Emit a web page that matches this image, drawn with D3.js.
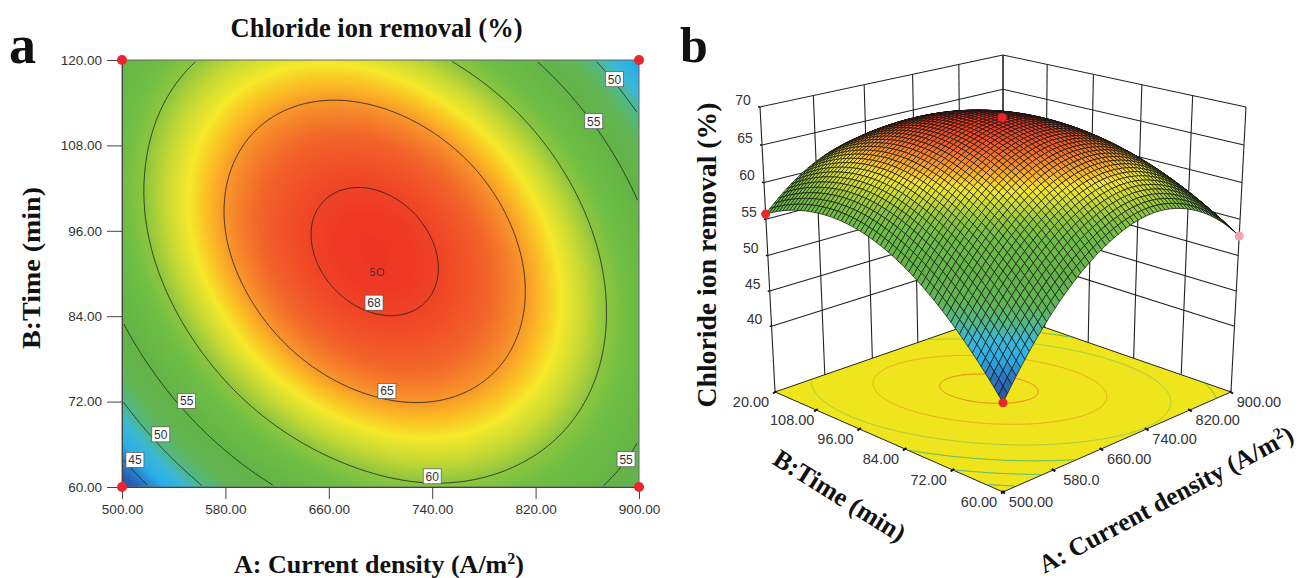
<!DOCTYPE html>
<html>
<head>
<meta charset="utf-8">
<style>
  html, body { margin: 0; padding: 0; background: #fff; }
  text { font-family: "Liberation Sans", Arial, sans-serif; fill: #333; }
  .big { font-family: "Liberation Serif", "Times New Roman", serif; font-weight: bold; fill: #111; }
</style>
<script src="https://cdn.jsdelivr.net/npm/d3@7/dist/d3.min.js"></script>
</head>
<body>
<div id="chart"></div>
<script>
var currentDensity = [500, 580, 660, 740, 820, 900];
var time = [60, 72, 84, 96, 108, 120];

// removal (%), one list per time level
var removalAt60 = [42.1, 51.7, 57.5, 59.7, 58.0, 52.7];
var removalAt72 = [49.9, 58.7, 63.7, 65.0, 62.5, 56.3];
var removalAt84 = [55.2, 63.1, 67.3, 67.7, 64.4, 57.4];
var removalAt96 = [57.9, 65.0, 68.3, 67.9, 63.8, 56.0];
var removalAt108 = [58.0, 64.3, 66.8, 65.6, 60.7, 52.0];
var removalAt120 = [55.7, 61.1, 62.8, 60.7, 55.0, 45.5];
var removal = [removalAt60, removalAt72, removalAt84, removalAt96, removalAt108, removalAt120];

var contourLevels = [45, 50, 55, 60, 65, 68];
var floorColors = ["#3aa8c0", "#49b68c", "#4fb86a", "#9ec94a", "#f2a32a", "#ee7d1f"];
var labelLevels = [50, 55, 68, 65, 60, 55, 50, 45, 55];
var labelDensity = [881, 865, 695, 705, 740, 550, 530, 510, 890];
var labelTime = [117.3, 111.4, 85.9, 73.5, 61.5, 72.1, 67.4, 63.8, 63.9];

var cornerDensity = [500, 900, 500, 900];
var cornerTime = [60, 60, 120, 120];
var centerDensity = 700;
var centerTime = 90.2;

var removalTicks = [40, 45, 50, 55, 60, 65, 70];
var densityLabels3d = ["500.00", "580.0", "660.00", "740.00", "820.00", "900.00"];
var timeLabels3d = ["60.00", "72.00", "84.00", "96.00", "108.00", "20.00"];

var colorStops = [42.1, 45, 46.5, 48.5, 50, 52, 55, 58.3, 60, 61.5, 63, 64.2, 65, 66.5, 68.7];
var colorRange = ["#27479f", "#2a80cc", "#29aee8", "#3cb8d8", "#50b88a", "#62b555", "#64b447", "#6fbe45",
  "#8dc63f", "#c5d934", "#f5e92a", "#fbb824", "#f7962a", "#f2642a", "#ee3224"];

var color = d3.scaleLinear().domain(colorStops).range(colorRange);

var svg = d3.select("#chart").append("svg")
  .attr("width", 1303)
  .attr("height", 578)
  .style("display", "block");

// smooth reading of the table between its 6x6 levels
var padded = (function() {
  function pad(v) {
    var n = v.length;
    return [3 * v[0] - 3 * v[1] + v[2]].concat(v, [3 * v[n - 1] - 3 * v[n - 2] + v[n - 3]]);
  }
  var rows = removal.map(pad);
  var cols = d3.range(8).map(function(i) {
    return pad(rows.map(function(r) { return r[i]; }));
  });
  return cols;
})();

function cubic(a, b, c, d, t) {
  return b + 0.5 * t * (c - a + t * (2 * a - 5 * b + 4 * c - d + t * (3 * (b - c) + d - a)));
}

// p, q are 0..1 along density and time
function surface(p, q) {
  var u = Math.min(p * 5, 4.9999), v = Math.min(q * 5, 4.9999);
  var i = Math.floor(u), j = Math.floor(v);
  var col = [0, 1, 2, 3].map(function(k) {
    var c = padded[i + k];
    return cubic(c[j], c[j + 1], c[j + 2], c[j + 3], v - j);
  });
  return cubic(col[0], col[1], col[2], col[3], u - i);
}

// sampled field for d3.contours, row 0 is the top of the plot (time 120)
var n = 300;
var field = new Float64Array(n * n);
d3.range(n).forEach(function(r) {
  d3.range(n).forEach(function(c) {
    field[r * n + c] = surface((c + 0.5) / n, 1 - (r + 0.5) / n);
  });
});

var contours = d3.contours().size([n, n]).smooth(true);

// contour rings without the stretches that run along the plot edge
function isolines(level) {
  var lines = [];
  var tol = 0.8;
  function onEdge(a) {
    return a[0] <= tol || a[0] >= n - tol || a[1] <= tol || a[1] >= n - tol;
  }
  contours.contour(field, level).coordinates.forEach(function(poly) {
    poly.forEach(function(ring) {
      var cur = [];
      ring.forEach(function(pt, i) {
        if (onEdge(pt)) {
          if (cur.length > 1) lines.push(cur);
          cur = [];
        } else {
          cur.push(pt);
        }
      });
      if (cur.length > 1) lines.push(cur);
    });
  });
  return lines.map(function(line) {
    return line.map(function(pt) { return [pt[0] / n, 1 - pt[1] / n]; });
  });
}

// ---------- panel a ----------
var x = d3.scaleLinear().domain([500, 900]).range([122, 639]);
var y = d3.scaleLinear().domain([60, 120]).range([487, 60]);

var panelA = svg.append("g").attr("id", "panel-a");

svg.append("clipPath").attr("id", "plot-clip").append("rect")
  .attr("x", x(500)).attr("y", y(120))
  .attr("width", x(900) - x(500)).attr("height", y(60) - y(120));

var bandPath = d3.geoPath(d3.geoTransform({
  point: function(c, r) {
    this.stream.point(x(500 + 400 * c / n), y(120 - 60 * r / n));
  }
}));

var bands = panelA.append("g").attr("clip-path", "url(#plot-clip)");

bands.append("rect")
  .attr("x", x(500)).attr("y", y(120))
  .attr("width", x(900) - x(500)).attr("height", y(60) - y(120))
  .attr("fill", color(42.1));

bands.selectAll("path")
  .data(contours.thresholds(d3.range(42.1, 68.8, 0.12))(field))
  .enter()
  .append("path")
  .attr("d", bandPath)
  .attr("fill", function(d) { return color(d.value); });

var planeLine = d3.line()
  .x(function(d) { return x(500 + 400 * d[0]); })
  .y(function(d) { return y(60 + 60 * d[1]); });

contourLevels.forEach(function(level) {
  panelA.append("g").selectAll("path")
    .data(isolines(level))
    .enter()
    .append("path")
    .attr("d", planeLine)
    .attr("fill", "none")
    .attr("stroke", "#1a1a1a")
    .attr("stroke-width", 0.8);
});

var boxes = panelA.append("g").selectAll("g")
  .data(labelLevels)
  .enter()
  .append("g")
  .attr("transform", function(d, i) {
    return "translate(" + x(labelDensity[i]) + "," + y(labelTime[i]) + ")";
  });

boxes.append("rect")
  .attr("x", -9).attr("y", -7.5)
  .attr("width", 18).attr("height", 15)
  .attr("fill", "#fff")
  .attr("stroke", "#555")
  .attr("stroke-width", 0.7);

boxes.append("text")
  .attr("text-anchor", "middle")
  .attr("y", 4.5)
  .attr("font-size", 12)
  .text(function(d) { return d; });

panelA.append("circle")
  .attr("cx", x(centerDensity)).attr("cy", y(centerTime)).attr("r", 3.5)
  .attr("fill", "none").attr("stroke", "#222").attr("stroke-width", 0.8);

panelA.append("text")
  .attr("x", x(centerDensity) - 8).attr("y", y(centerTime) + 4)
  .attr("text-anchor", "middle").attr("font-size", 10)
  .text("5");

panelA.append("rect")
  .attr("x", x(500)).attr("y", y(120))
  .attr("width", x(900) - x(500)).attr("height", y(60) - y(120))
  .attr("fill", "none").attr("stroke", "#666").attr("stroke-width", 1);

var xAxis = panelA.append("g")
  .attr("transform", "translate(0," + y(60) + ")")
  .call(d3.axisBottom(x).tickValues(currentDensity).tickFormat(d3.format(".2f")).tickSize(12).tickPadding(5).tickSizeOuter(0));

var yAxis = panelA.append("g")
  .attr("transform", "translate(" + x(500) + ",0)")
  .call(d3.axisLeft(y).tickValues(time).tickFormat(d3.format(".2f")).tickSize(15).tickPadding(5).tickSizeOuter(0));

[xAxis, yAxis].forEach(function(axis) {
  axis.selectAll("text").attr("font-size", 13.5).style("font-family", "'Liberation Sans'").style("fill", "#333");
  axis.selectAll("line, path").attr("stroke", "#444");
});

panelA.append("g").selectAll("circle")
  .data(cornerDensity)
  .enter()
  .append("circle")
  .attr("cx", function(d) { return x(d); })
  .attr("cy", function(d, i) { return y(cornerTime[i]); })
  .attr("r", 5)
  .attr("fill", "#e8262c");

svg.append("text").attr("class", "big")
  .attr("x", 376.5).attr("y", 37)
  .attr("text-anchor", "middle").attr("font-size", 27)
  .attr("textLength", 292).attr("lengthAdjust", "spacingAndGlyphs")
  .text("Chloride ion removal (%)");

svg.append("text").attr("class", "big")
  .attr("x", 9).attr("y", 63).attr("font-size", 54)
  .text("a");

svg.append("text").attr("class", "big")
  .attr("transform", "translate(40,268) rotate(-90)")
  .attr("text-anchor", "middle").attr("font-size", 26)
  .attr("textLength", 162).attr("lengthAdjust", "spacingAndGlyphs")
  .text("B:Time (min)");

var xTitle = svg.append("text").attr("class", "big")
  .attr("x", 379).attr("y", 573)
  .attr("text-anchor", "middle").attr("font-size", 26);
xTitle.append("tspan").text("A: Current density (A/m");
xTitle.append("tspan").attr("dy", -9).attr("font-size", 16).text("2");
xTitle.append("tspan").attr("dy", 9).text(")");

// ---------- panel b ----------
var floorZ = 30.4, topZ = 70;

// perspective fitted to the box corners: p along density, q along time
function project(p, q, z) {
  var h = (z - floorZ) / (topZ - floorZ);
  var w = 1 + 0.133 * (p + q) - 0.07 * h;
  return [1003 + 258.3 * (p - q) / w, (492 - 47.9 * (p + q) - 330.4 * h) / w];
}

var panelB = svg.append("g").attr("id", "panel-b");
var pFrac = d3.scaleLinear().domain([500, 900]).range([0, 1]);
var qFrac = d3.scaleLinear().domain([60, 120]).range([0, 1]);

function segment(g, a, b, stroke, width) {
  g.append("line")
    .attr("x1", a[0]).attr("y1", a[1])
    .attr("x2", b[0]).attr("y2", b[1])
    .attr("stroke", stroke)
    .attr("stroke-width", width);
}

var walls = panelB.append("g");

removalTicks.forEach(function(z) {
  segment(walls, project(0, 1, z), project(1, 1, z), "#222", 1.1);
  segment(walls, project(1, 1, z), project(1, 0, z), "#222", 1.1);
});
currentDensity.forEach(function(a) {
  segment(walls, project(pFrac(a), 1, floorZ), project(pFrac(a), 1, topZ), "#222", 1.1);
});
time.forEach(function(b) {
  segment(walls, project(1, qFrac(b), floorZ), project(1, qFrac(b), topZ), "#222", 1.1);
});

var floorPoints = [[0, 0], [1, 0], [1, 1], [0, 1]].map(function(c) {
  return project(c[0], c[1], floorZ);
});

panelB.append("polygon")
  .attr("points", floorPoints.join(" "))
  .attr("fill", "#efe51c")
  .attr("stroke", "#222")
  .attr("stroke-width", 1);

var floorLine = d3.line()
  .x(function(d) { return project(d[0], d[1], floorZ)[0]; })
  .y(function(d) { return project(d[0], d[1], floorZ)[1]; });

contourLevels.forEach(function(level, i) {
  panelB.append("g").selectAll("path")
    .data(isolines(level))
    .enter()
    .append("path")
    .attr("d", floorLine)
    .attr("fill", "none")
    .attr("stroke", floorColors[i])
    .attr("stroke-width", 1);
});

// floor edge ticks and labels
var edge = panelB.append("g");
currentDensity.forEach(function(a, i) {
  var pt = project(pFrac(a), 0, floorZ);
  segment(edge, [pt[0] - 1.5, pt[1] - 1], [pt[0] + 2, pt[1] + 1.5], "#111", 2);
  edge.append("text")
    .attr("x", pt[0] + 28).attr("y", pt[1] + 15)
    .attr("text-anchor", "middle").attr("font-size", 14.5)
    .text(densityLabels3d[i]);
});
time.forEach(function(b, i) {
  var pt = project(0, qFrac(b), floorZ);
  segment(edge, [pt[0] + 1.5, pt[1] - 1], [pt[0] - 2, pt[1] + 1.5], "#111", 2);
  edge.append("text")
    .attr("x", pt[0] - 24).attr("y", pt[1] + 15)
    .attr("text-anchor", "middle").attr("font-size", 14.5)
    .text(timeLabels3d[i]);
});

// z axis on the left corner
removalTicks.forEach(function(z) {
  var pt = project(0, 1, z);
  segment(edge, pt, [pt[0] - 2, pt[1]], "#111", 1.5);
  edge.append("text")
    .attr("x", pt[0] - 17).attr("y", pt[1] - 2)
    .attr("text-anchor", "middle").attr("font-size", 14)
    .text(z);
});

// mesh, drawn back to front
var steps = 60;
var quads = [];
d3.range(steps).forEach(function(i) {
  d3.range(steps).forEach(function(j) {
    var corners = [[i, j], [i + 1, j], [i + 1, j + 1], [i, j + 1]].map(function(c) {
      var p = c[0] / steps, q = c[1] / steps;
      return { pt: project(p, q, surface(p, q)), z: surface(p, q) };
    });
    quads.push({
      order: i + j,
      value: d3.mean(corners, function(c) { return c.z; }),
      points: corners.map(function(c) { return c.pt; })
    });
  });
});
quads.sort(function(a, b) { return b.order - a.order; });

panelB.append("g").selectAll("polygon")
  .data(quads)
  .enter()
  .append("polygon")
  .attr("points", function(d) { return d.points.join(" "); })
  .attr("fill", function(d) { return color(d.value); })
  .attr("stroke", "#111")
  .attr("stroke-width", 0.7);

function designDot(a, b, fill) {
  var p = pFrac(a), q = qFrac(b);
  var pt = project(p, q, surface(p, q));
  panelB.append("circle")
    .attr("cx", pt[0]).attr("cy", pt[1]).attr("r", 4.5)
    .attr("fill", fill);
}

designDot(centerDensity, centerTime, "#e8262c");
designDot(cornerDensity[2], cornerTime[2], "#e8262c");
designDot(cornerDensity[0], cornerTime[0], "#e8262c");
designDot(cornerDensity[1], cornerTime[1], "#f2a6ae");

svg.append("text").attr("class", "big")
  .attr("x", 680).attr("y", 62).attr("font-size", 50)
  .text("b");

svg.append("text").attr("class", "big")
  .attr("transform", "translate(716,255) rotate(-90)")
  .attr("text-anchor", "middle").attr("font-size", 27)
  .attr("textLength", 305).attr("lengthAdjust", "spacingAndGlyphs")
  .text("Chloride ion removal (%)");

svg.append("text").attr("class", "big")
  .attr("transform", "translate(835,503) rotate(32)")
  .attr("text-anchor", "middle").attr("font-size", 26)
  .text("B:Time (min)");

var zTitle = svg.append("text").attr("class", "big")
  .attr("transform", "translate(1170,507) rotate(-28)")
  .attr("text-anchor", "middle").attr("font-size", 25.5);
zTitle.append("tspan").text("A: Current density (A/m");
zTitle.append("tspan").attr("dy", -9).attr("font-size", 16).text("2");
zTitle.append("tspan").attr("dy", 9).text(")");
</script>
</body>
</html>
